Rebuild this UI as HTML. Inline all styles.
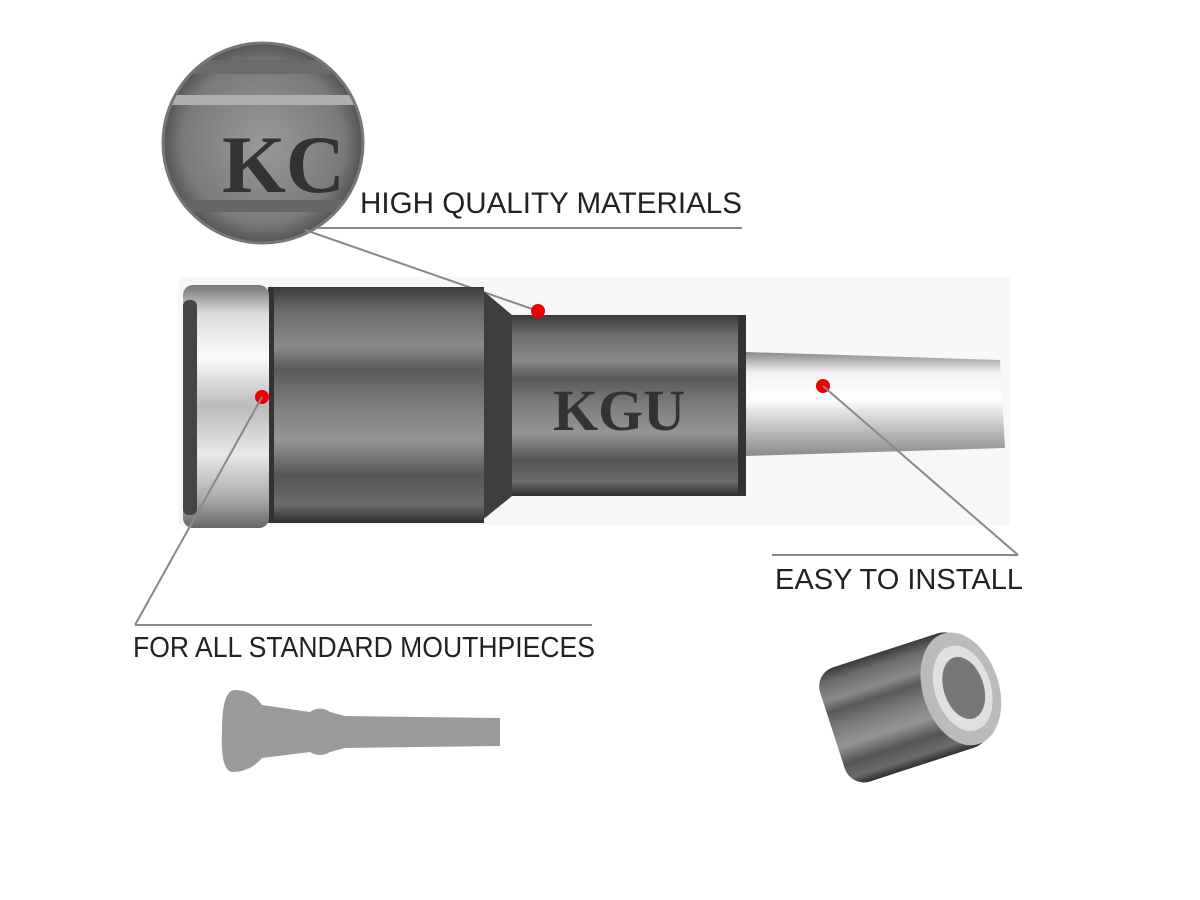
<!DOCTYPE html>
<html><head><meta charset="utf-8"><style>
html,body{margin:0;padding:0;background:#fff;}
svg{display:block}
.s{font-family:"Liberation Sans","DejaVu Sans",sans-serif;}
</style></head><body>
<svg width="1200" height="900" viewBox="0 0 1200 900" xmlns="http://www.w3.org/2000/svg">
<defs>
<linearGradient id="dark" x1="0" y1="0" x2="0" y2="1">
<stop offset="0" stop-color="#3a3a3a"/><stop offset="0.1" stop-color="#6a6a6a"/>
<stop offset="0.25" stop-color="#8a8a8a"/><stop offset="0.35" stop-color="#5a5a5a"/>
<stop offset="0.5" stop-color="#7d7d7d"/><stop offset="0.65" stop-color="#959595"/>
<stop offset="0.8" stop-color="#555"/><stop offset="0.92" stop-color="#6c6c6c"/>
<stop offset="1" stop-color="#2e2e2e"/></linearGradient>
<linearGradient id="silver" x1="0" y1="0" x2="0" y2="1">
<stop offset="0" stop-color="#777"/><stop offset="0.12" stop-color="#ddd"/>
<stop offset="0.3" stop-color="#fafafa"/><stop offset="0.5" stop-color="#bbb"/>
<stop offset="0.7" stop-color="#e8e8e8"/><stop offset="0.88" stop-color="#aaa"/>
<stop offset="1" stop-color="#666"/></linearGradient>
<linearGradient id="shaft" x1="0" y1="0" x2="0" y2="1">
<stop offset="0" stop-color="#888"/><stop offset="0.2" stop-color="#f2f2f2"/>
<stop offset="0.45" stop-color="#ffffff"/><stop offset="0.7" stop-color="#c8c8c8"/>
<stop offset="1" stop-color="#8a8a8a"/></linearGradient>
<radialGradient id="mag" cx="0.5" cy="0.5" r="0.5">
<stop offset="0" stop-color="#9a9a9a"/><stop offset="0.8" stop-color="#7a7a7a"/><stop offset="1" stop-color="#555"/></radialGradient>
<clipPath id="cc"><circle cx="263" cy="143" r="99"/></clipPath>
</defs>

<circle cx="263" cy="143" r="100" fill="url(#mag)"/>
<g clip-path="url(#cc)">
<rect x="160" y="60" width="210" height="14" fill="#6a6a6a"/>
<rect x="160" y="95" width="210" height="10" fill="#b0b0b0"/>
<rect x="160" y="200" width="210" height="12" fill="#666"/>
<text x="222" y="192" style="font-family:'Liberation Serif',serif;font-weight:bold" font-size="82" fill="#333">KC</text>
</g>
<circle cx="263" cy="143" r="100" fill="none" stroke="#777" stroke-width="3"/>

<text class="s" x="360" y="213" font-size="30" fill="#222" textLength="382" lengthAdjust="spacingAndGlyphs">HIGH QUALITY MATERIALS</text>
<line x1="318" y1="228" x2="742" y2="228" stroke="#888" stroke-width="2"/>

<rect x="178" y="277" width="832" height="248" fill="#f7f7f7"/>
<line x1="305" y1="230" x2="538" y2="311" stroke="#888" stroke-width="2"/>

<polygon points="745,352 1000,360 1005,448 745,456" fill="url(#shaft)"/>
<rect x="510" y="315" width="236" height="181" fill="url(#dark)"/>
<rect x="738" y="315" width="8" height="181" fill="#333"/>
<text x="553" y="430" style="font-family:'Liberation Serif',serif;font-weight:bold" font-size="58" fill="#333">KGU</text>
<polygon points="480,288 512,315 512,496 480,522" fill="#3e3e3e"/>
<rect x="272" y="287" width="212" height="236" fill="url(#dark)"/>
<rect x="268" y="287" width="6" height="236" fill="#333"/>
<rect x="183" y="285" width="86" height="243" rx="10" fill="url(#silver)"/>
<rect x="183" y="300" width="14" height="215" rx="6" fill="#444"/>

<circle cx="538" cy="311" r="7" fill="#e00"/>
<circle cx="262" cy="397" r="7" fill="#e00"/>
<circle cx="823" cy="386" r="7" fill="#e00"/>

<line x1="262" y1="397" x2="135" y2="625" stroke="#888" stroke-width="2"/>
<line x1="135" y1="625" x2="592" y2="625" stroke="#888" stroke-width="2"/>
<text class="s" x="133" y="657" font-size="29" fill="#222" textLength="462" lengthAdjust="spacingAndGlyphs">FOR ALL STANDARD MOUTHPIECES</text>

<line x1="823" y1="386" x2="1018" y2="555" stroke="#888" stroke-width="2"/>
<line x1="772" y1="555" x2="1018" y2="555" stroke="#888" stroke-width="2"/>
<text class="s" x="775" y="589" font-size="29" fill="#222" textLength="248" lengthAdjust="spacingAndGlyphs">EASY TO INSTALL</text>

<path d="M235,690 Q252,690 262,705 L310,712 Q320,705 330,712 L345,716 L500,718 L500,746 L345,748 L330,752 Q320,758 310,752 L262,758 Q250,772 232,772 Q220,770 222,730 Q222,690 235,690 Z" fill="#9a9a9a"/>

<g transform="rotate(-18 912 710)">
<rect x="830" y="645" width="150" height="120" rx="20" fill="url(#dark)"/>
<ellipse cx="965" cy="705" rx="38" ry="58" fill="#bbb"/>
<ellipse cx="967" cy="705" rx="28" ry="44" fill="#e0e0e0"/>
<ellipse cx="968" cy="705" rx="20" ry="32" fill="#777"/>
</g>
</svg>
</body></html>
